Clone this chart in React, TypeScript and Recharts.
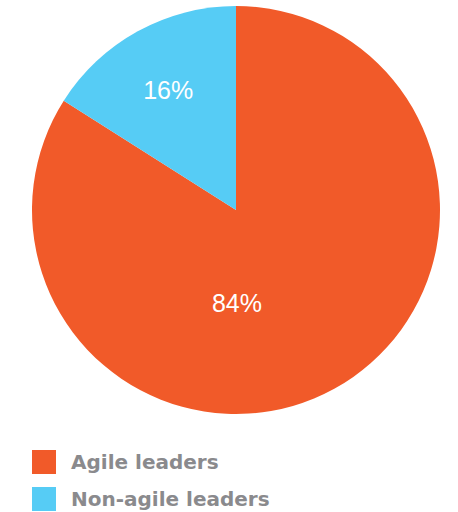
import React from "react";
import { PieChart, Pie, Cell, Legend } from "recharts";

const categories = ["Agile leaders", "Non-agile leaders"];
const values = [84, 16];
const colors = ["#F15A29", "#56CCF5"];

const data = categories.map((name, i) => ({ name, value: values[i] }));

const RAD = Math.PI / 180;

const renderLabel = (props: any) => {
  const { cx, cy, midAngle, outerRadius, index, value } = props;
  let x: number;
  let y: number;
  if (index === 0) {
    x = cx + 1;
    y = cy + outerRadius * 0.455;
  } else {
    const r = outerRadius * 0.68;
    x = cx + r * Math.cos(-midAngle * RAD) - 1;
    y = cy + r * Math.sin(-midAngle * RAD) + 2;
  }
  return (
    <text
      x={x}
      y={y}
      fill="#ffffff"
      textAnchor="middle"
      dominantBaseline="central"
      style={{ fontFamily: "'Liberation Sans', Arial, sans-serif", fontSize: 25 }}
    >
      {`${value}%`}
    </text>
  );
};

const renderLegend = () => (
  <div>
    {categories.map((c, i) => (
      <div key={c} style={{ display: "flex", alignItems: "center", height: 37 }}>
        <div style={{ width: 24, height: 24, background: colors[i], marginRight: 15 }} />
        <span
          style={{
            fontFamily: "'DejaVu Sans', sans-serif",
            fontWeight: 700,
            fontSize: 20,
            color: "#8a8a8d",
          }}
        >
          {c}
        </span>
      </div>
    ))}
  </div>
);

export default function App() {
  return (
    <div style={{ position: "absolute", left: 0, top: 0, width: 458, height: 512 }}>
      <PieChart width={458} height={512} margin={{ top: 0, right: 0, bottom: 0, left: 0 }}>
        <Pie
          data={data}
          dataKey="value"
          nameKey="name"
          cx={236}
          cy={210}
          outerRadius={204}
          startAngle={90}
          endAngle={-270}
          stroke="none"
          label={renderLabel}
          labelLine={false}
          isAnimationActive={false}
        >
          {data.map((d, i) => (
            <Cell key={d.name} fill={colors[i]} />
          ))}
        </Pie>
        <Legend
          content={renderLegend}
          layout="vertical"
          wrapperStyle={{ left: 32, top: 443, width: 400 }}
        />
      </PieChart>
    </div>
  );
}
